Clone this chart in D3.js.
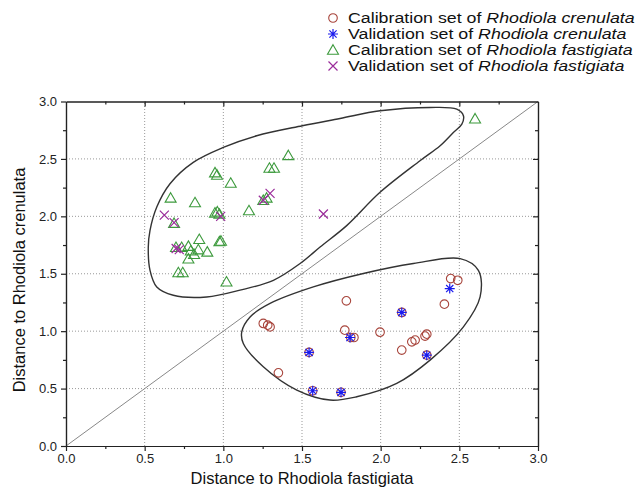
<!DOCTYPE html>
<html>
<head>
<meta charset="utf-8">
<script src="https://cdn.jsdelivr.net/npm/d3@7"></script>
<style>
  body { margin: 0; background: #fff; }
  svg { font-family: "Liberation Sans", Arial, sans-serif; }
  .grid line { stroke: #999; stroke-dasharray: 1,2; stroke-width: 1; }
  .axis path, .axis line { stroke: #222; stroke-width: 1.2; }
  .axis text { fill: #222; font-size: 13px; }
</style>
</head>
<body>
<div id="chart"></div>
<script>
// ---- data ----
const majorTicks = [0, 0.5, 1.0, 1.5, 2.0, 2.5, 3.0];
const minorTicks = [0.25, 0.75, 1.25, 1.75, 2.25, 2.75];
const gridTicks = [0.5, 1.0, 1.5, 2.0, 2.5];

// calibration set of R. crenulata: [x, y]
const calCren = [
  [2.445, 1.458], [2.49, 1.443], [2.405, 1.235], [1.782, 1.264], [2.134, 1.163],
  [1.254, 1.067], [1.282, 1.052], [1.297, 1.037], [1.772, 1.009], [1.81, 0.945],
  [1.83, 0.945], [1.996, 0.991], [2.293, 0.974], [2.282, 0.957], [2.219, 0.922],
  [2.198, 0.907], [2.134, 0.835], [2.293, 0.791], [1.545, 0.815], [1.35, 0.637],
  [1.568, 0.481], [1.748, 0.467]
];
// validation set of R. crenulata
const valCren = [
  [2.439, 1.371], [2.134, 1.163], [1.805, 0.945], [2.293, 0.791],
  [1.545, 0.815], [1.568, 0.481], [1.748, 0.467]
];
// calibration set of R. fastigiata
const calFast = [
  [2.60, 2.85], [1.413, 2.53], [1.293, 2.42], [1.322, 2.42], [0.947, 2.38],
  [0.96, 2.36], [1.047, 2.29], [0.665, 2.16], [0.82, 2.12], [1.254, 2.14],
  [1.275, 2.16], [1.163, 2.05], [0.947, 2.03], [0.962, 2.04], [0.975, 2.02],
  [0.687, 1.94], [0.847, 1.80], [0.975, 1.78], [0.985, 1.785], [0.699, 1.73],
  [0.735, 1.73], [0.778, 1.74], [0.793, 1.70], [0.841, 1.71], [0.898, 1.69],
  [0.814, 1.67], [0.778, 1.63], [0.714, 1.51], [0.742, 1.51], [1.02, 1.43]
];
// validation set of R. fastigiata
const valFast = [
  [0.625, 2.01], [0.687, 1.945], [0.72, 1.71], [0.70, 1.72], [0.983, 2.00],
  [1.254, 2.14], [1.297, 2.20], [1.636, 2.02]
];
// hand-drawn group outlines
const outlineFast = [
  [0.534, 1.878], [0.577, 2.081], [0.661, 2.284], [0.809, 2.470], [1.000, 2.600],
  [1.212, 2.702], [1.502, 2.789], [1.742, 2.852], [1.996, 2.919], [2.314, 2.948],
  [2.484, 2.933], [2.526, 2.876], [2.516, 2.803], [2.462, 2.730], [2.378, 2.615],
  [2.250, 2.484], [1.996, 2.209], [1.784, 1.919], [1.615, 1.733], [1.488, 1.589],
  [1.318, 1.443], [1.106, 1.357], [0.894, 1.298], [0.682, 1.313], [0.577, 1.385],
  [0.534, 1.530], [0.523, 1.733]
];
const outlineCren = [
  [2.505, 1.632], [2.621, 1.530], [2.632, 1.298], [2.526, 1.037], [2.314, 0.748],
  [2.102, 0.545], [1.848, 0.429], [1.678, 0.400], [1.467, 0.487], [1.254, 0.690],
  [1.127, 0.893], [1.117, 0.994], [1.170, 1.124], [1.297, 1.241], [1.572, 1.385],
  [1.890, 1.502], [2.208, 1.589]
];
const diagonal = [[0, 0], [3, 3]];

const legendItems = [
  { kind: 'circle', pre: 'Calibration set of ', it: 'Rhodiola crenulata' },
  { kind: 'star', pre: 'Validation set of ', it: 'Rhodiola crenulata' },
  { kind: 'tri', pre: 'Calibration set of ', it: 'Rhodiola fastigiata' },
  { kind: 'cross', pre: 'Validation set of ', it: 'Rhodiola fastigiata' }
];

const COL = { circle: '#a8453c', star: '#1a1aee', tri: '#3d9a3d', cross: '#9a2c9a' };

const W = 635, H = 490;
const x = d3.scaleLinear().domain([0, 3]).range([66, 538]);
const y = d3.scaleLinear().domain([0, 3]).range([446, 101.5]);

const svg = d3.select('#chart').append('svg').attr('width', W).attr('height', H);

// gridlines
const g = svg.append('g').attr('class', 'grid');
g.selectAll('.gx').data(gridTicks).enter().append('line')
  .attr('x1', d => x(d)).attr('x2', d => x(d)).attr('y1', y(0)).attr('y2', y(3));
g.selectAll('.gy').data(gridTicks).enter().append('line')
  .attr('y1', d => y(d)).attr('y2', d => y(d)).attr('x1', x(0)).attr('x2', x(3));

// diagonal y = x
svg.append('path').attr('d', d3.line().x(d => x(d[0])).y(d => y(d[1]))(diagonal))
  .attr('stroke', '#888').attr('stroke-width', 1).attr('fill', 'none');

// outlines
const outl = d3.line().x(d => x(d[0])).y(d => y(d[1])).curve(d3.curveCatmullRomClosed.alpha(0.5));
[outlineFast, outlineCren].forEach(o => {
  svg.append('path').attr('d', outl(o)).attr('fill', 'none')
    .attr('stroke', '#333').attr('stroke-width', 1.4);
});

// marker drawers
function drawMarker(sel, kind) {
  const c = COL[kind];
  if (kind === 'circle') {
    sel.append('circle').attr('r', 4.3).attr('fill', 'none').attr('stroke', c).attr('stroke-width', 1.1);
  } else if (kind === 'tri') {
    sel.append('path').attr('d', 'M0,-5.3 L5.5,4.2 L-5.5,4.2 Z').attr('fill', 'none')
      .attr('stroke', c).attr('stroke-width', 1.1);
  } else if (kind === 'cross') {
    sel.append('path').attr('d', 'M-4.5,-4.5L4.5,4.5M-4.5,4.5L4.5,-4.5')
      .attr('stroke', c).attr('stroke-width', 1.2);
  } else if (kind === 'star') {
    sel.append('path').attr('d', 'M0,-5L0,5M-5,0L5,0M-3.6,-3.6L3.6,3.6M-3.6,3.6L3.6,-3.6')
      .attr('stroke', c).attr('stroke-width', 1.2);
  }
}

function plotSeries(data, kind) {
  const s = svg.append('g').selectAll('g').data(data).enter().append('g')
    .attr('transform', d => 'translate(' + x(d[0]) + ',' + y(d[1]) + ')');
  drawMarker(s, kind);
}
plotSeries(calFast, 'tri');
plotSeries(valFast, 'cross');
plotSeries(calCren, 'circle');
plotSeries(valCren, 'star');

// axes
const fmt = d3.format('.1f');
svg.append('g').attr('class', 'axis').attr('transform', 'translate(0,' + y(0) + ')')
  .call(d3.axisBottom(x).tickValues(majorTicks).tickFormat(fmt).tickSize(5).tickSizeOuter(0).tickPadding(3));
svg.append('g').attr('class', 'axis').attr('transform', 'translate(0,' + y(0) + ')')
  .call(d3.axisBottom(x).tickValues(minorTicks).tickFormat('').tickSize(3).tickSizeOuter(0));
svg.append('g').attr('class', 'axis').attr('transform', 'translate(' + x(0) + ',0)')
  .call(d3.axisLeft(y).tickValues(majorTicks).tickFormat(fmt).tickSize(5).tickSizeOuter(0).tickPadding(4));
svg.append('g').attr('class', 'axis').attr('transform', 'translate(' + x(0) + ',0)')
  .call(d3.axisLeft(y).tickValues(minorTicks).tickFormat('').tickSize(3).tickSizeOuter(0));
svg.append('g').attr('class', 'axis').attr('transform', 'translate(0,' + y(3) + ')')
  .call(d3.axisTop(x).tickValues(majorTicks.slice(1, -1)).tickFormat('').tickSize(-5).tickSizeOuter(0));
svg.append('g').attr('class', 'axis').attr('transform', 'translate(0,' + y(3) + ')')
  .call(d3.axisTop(x).tickValues(minorTicks).tickFormat('').tickSize(-3).tickSizeOuter(0));
svg.append('g').attr('class', 'axis').attr('transform', 'translate(' + x(3) + ',0)')
  .call(d3.axisRight(y).tickValues(majorTicks.slice(1, -1)).tickFormat('').tickSize(-5).tickSizeOuter(0));
svg.append('g').attr('class', 'axis').attr('transform', 'translate(' + x(3) + ',0)')
  .call(d3.axisRight(y).tickValues(minorTicks).tickFormat('').tickSize(-3).tickSizeOuter(0));

// axis titles
svg.append('text').attr('x', (x(0) + x(3)) / 2).attr('y', 484).attr('text-anchor', 'middle')
  .attr('font-size', 16.5).attr('fill', '#111').text('Distance to Rhodiola fastigiata');
svg.append('text').attr('transform', 'translate(25,280) rotate(-90)')
  .attr('text-anchor', 'middle').attr('font-size', 16.5).attr('fill', '#111')
  .text('Distance to Rhodiola crenulata');

// legend (text slightly widened to match the original's stretched face)
const lg = svg.append('g').attr('transform', 'translate(333,18)');
legendItems.forEach((d, i) => {
  const row = lg.append('g').attr('transform', 'translate(0,' + (i * 16) + ')');
  drawMarker(row.append('g'), d.kind);
  const t = row.append('text').attr('transform', 'translate(15,5) scale(1.27,1)')
    .attr('font-size', 14).attr('fill', '#111');
  t.append('tspan').text(d.pre);
  t.append('tspan').attr('font-style', 'italic').text(d.it);
});
</script>
</body>
</html>
